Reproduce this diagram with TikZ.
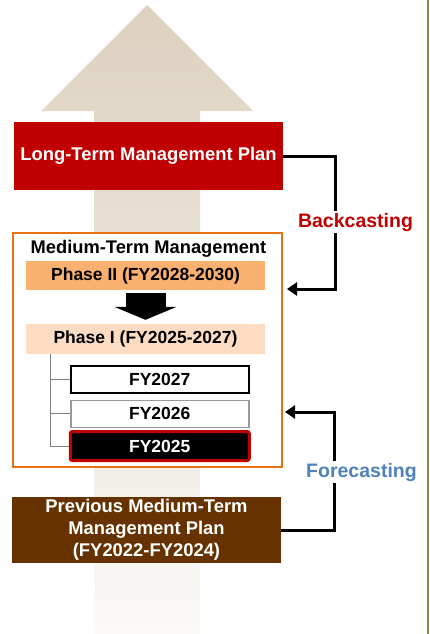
\documentclass[tikz,border=0pt]{standalone}
\usepackage{fontspec}
\setmainfont{Liberation Sans}
\usepackage{tikz}
\usetikzlibrary{positioning,arrows.meta}

\definecolor{planred}{RGB}{192,0,0}
\definecolor{prevbrown}{RGB}{102,51,0}
\definecolor{frameorange}{RGB}{230,112,20}
\definecolor{phasetwo}{RGB}{250,176,110}
\definecolor{phaseone}{RGB}{252,221,196}
\definecolor{foreblue}{RGB}{79,129,189}
\definecolor{pageedge}{RGB}{160,128,72}
\definecolor{arrowtop}{RGB}{221,209,191}
\definecolor{arrowbottom}{RGB}{251,250,247}

\begin{document}
\begin{tikzpicture}[
    x=1pt, y=-1pt,
    node distance=6pt,
    >={Triangle[length=10pt,width=13pt]},
    font=\fontsize{17.5}{22}\selectfont\bfseries
]


\tikzstyle{bar}=[
    rectangle,
    minimum width=269pt,
    inner sep=0pt,
    align=center,
    text=white,
    font=\fontsize{18.4}{22}\selectfont\bfseries
]

\tikzstyle{phase}=[
    rectangle,
    minimum width=239pt,
    minimum height=29pt,
    inner sep=0pt
]

\tikzstyle{year}=[
    rectangle,
    minimum width=178pt,
    minimum height=27pt,
    inner sep=0pt,
    line width=1.5pt
]

\tikzstyle{link}=[->, line width=3pt]
\tikzstyle{tree}=[draw=gray, line width=1pt]
\tikzstyle{tag}=[fill=white, inner sep=2pt, font=\fontsize{19.5}{23}\selectfont\bfseries]


\useasboundingbox (0,0) rectangle (429,634);

\shade[top color=arrowtop, bottom color=arrowbottom]
    (147,5) -- (253,111) -- (200,111) -- (200,634) -- (94,634) -- (94,111) -- (41,111) -- cycle;

\draw[pageedge, line width=1.5pt] (428,0) -- (428,634);


\node[bar, fill=planred, minimum height=68pt] (long) at (148.5,156) {Long-Term Management Plan};

\node[draw=frameorange, line width=2pt, fill=white, minimum width=269pt, minimum height=234pt, inner sep=0pt] (mtm) at (147.5,350) {};
\node[font=\fontsize{18.3}{22}\selectfont\bfseries] (mtmtitle) at (148.5,249) {Medium-Term Management};

\node[phase, fill=phasetwo] (p2) at (145.5,275.5) {Phase II (FY2028-2030)};
\node[phase, fill=phaseone, minimum height=30pt] (p1) at (145.5,339) {Phase I (FY2025-2027)};

\draw[line width=40pt, -{Triangle[length=13pt,width=62pt]}] ([yshift=-3pt]p2.south) -- ([yshift=4pt]p1.north);

\node[year, draw=black, fill=white, anchor=north west] (y27) at (70,365) {FY2027};
\node[year, draw=gray!80, fill=white, below=6pt of y27] (y26) {FY2026};
\node[year, fill=black, text=white, draw=planred, line width=3pt, rounded corners=2pt, minimum width=179pt, minimum height=29pt, below=2pt of y26] (y25) {FY2025};

\coordinate (trunk) at ([xshift=25pt]p1.south west);
\draw[tree] (trunk) |- (y25.west);
\draw[tree] (trunk |- y27.west) -- (y27.west);
\draw[tree] (trunk |- y26.west) -- (y26.west);


\node[bar, fill=prevbrown, minimum height=66pt] (prev) at (146.5,530) {Previous Medium-Term\\Management Plan\\(FY2022-FY2024)};


\coordinate (bk) at (335,289);
\draw[link] (long.east) -| (bk) -- ([xshift=4pt]mtm.east |- bk);
\node[tag, text=planred] (bklabel) at (355.5,222) {Backcasting};

\coordinate (fc) at (334,412);
\draw[link] (prev.east) -| (fc) -- ([xshift=2pt]mtm.east |- fc);
\node[tag, text=foreblue] (fclabel) at (361.5,472) {Forecasting};

\end{tikzpicture}
\end{document}
